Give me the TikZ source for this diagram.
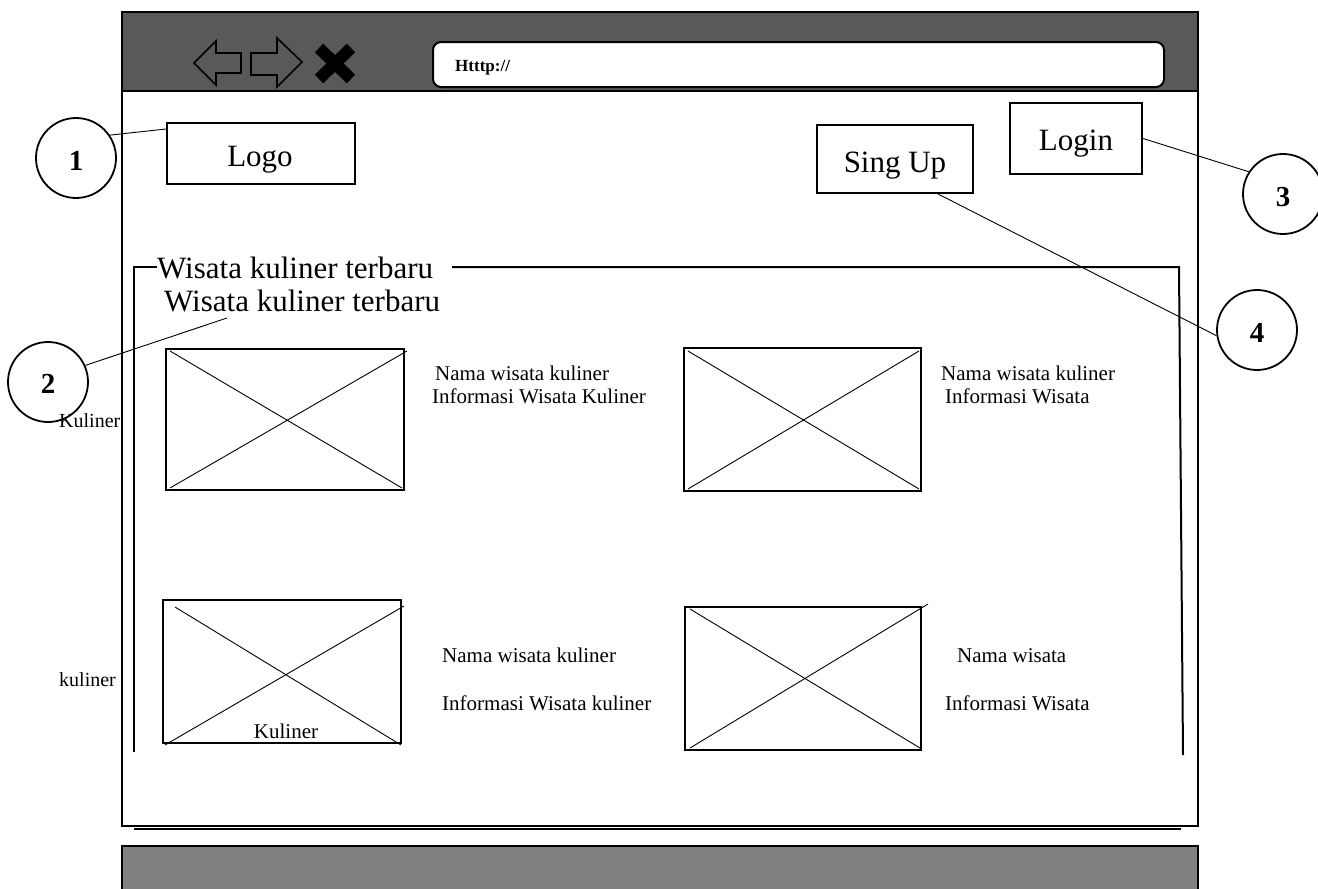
\documentclass[tikz,border=0pt]{standalone}
\usepackage{fontspec}
\setmainfont{Liberation Serif}
\usetikzlibrary{calc}
\definecolor{bardark}{HTML}{595959}
\definecolor{bargray}{HTML}{808080}
\tikzset{
  frame/.style={draw=black, line width=2pt},
  thin/.style={draw=black, line width=0.9pt},
  box/.style={draw=black, line width=2pt, rectangle, inner sep=0pt, fill=white},
  marker/.style={draw=black, line width=1.8pt, circle, minimum size=80pt, inner sep=0pt},
  num/.style={inner sep=0pt, font=\fontsize{29}{33}\selectfont\bfseries},
  big/.style={inner sep=0pt, font=\fontsize{31}{36}\selectfont},
  small/.style={inner sep=0pt, font=\fontsize{21}{25}\selectfont},
}
\begin{document}
\begin{tikzpicture}[x=1pt,y=-1pt]
\useasboundingbox (0,0) rectangle (1318,889);
% window
\draw[frame, fill=white, line width=2.5pt] (122,12) rectangle (1198,826);
\draw[frame, fill=bardark, line width=2.5pt] (122,12) rectangle (1198,91);
\draw[frame] (134,829) -- (1181,829);
% bottom bar
\draw[frame, fill=bargray] (122,846) rectangle (1198,895);
% toolbar icons
\draw[thin, line width=1.6pt, line join=miter] (194,63) -- (216,41) -- (216,53) -- (241,53) -- (241,73) -- (216,73) -- (216,85) -- cycle;
\draw[thin, line width=1.6pt, line join=miter] (251,53) -- (277,53) -- (277,38) -- (302,62) -- (277,87) -- (277,75) -- (251,75) -- cycle;
\draw[line width=12pt] (319,48) -- (351,79);
\draw[line width=12pt] (351,48) -- (319,79);
% address bar
\draw[frame, fill=white, rounded corners=8pt] (433,42) rectangle (1164,87);
\node[anchor=base west, inner sep=0pt, font=\fontsize{17}{20}\selectfont\bfseries] (url) at (455,71) {Htttp://};
% header boxes
\node[box, minimum width=188pt, minimum height=61pt] (logo) at (261,153.5) {};
\node[big, anchor=base] (logot) at (260,166) {Logo};
\node[box, minimum width=156pt, minimum height=68pt] (signup) at (895,159) {};
\node[big, anchor=base] (signupt) at (895,172) {Sing Up};
\node[box, minimum width=132pt, minimum height=71pt] (login) at (1076,138.5) {};
\node[big, anchor=base] (logint) at (1076,150) {Login};
% markers
\node[marker] (c1) at (76,158) {};
\node[marker] (c2) at (48,382) {};
\node[marker] (c3) at (1283,194) {};
\node[marker] (c4) at (1257,330) {};
\node[num] (n1) at ([yshift=-3pt]c1.center) {1};
\node[num] (n2) at ([yshift=-2pt]c2.center) {2};
\node[num] (n3) at ([yshift=-3pt]c3.center) {3};
\node[num] (n4) at ([yshift=-3pt]c4.center) {4};
% group frame
\draw[frame] (157,267) -- (134,267) -- (134,752);
\draw[frame] (452,267) -- (1179,267) -- (1183,755);
\node[big, anchor=base west] (legend) at (157,278) {Wisata kuliner terbaru};
\node[big, anchor=base west] (title) at (164,311) {Wisata kuliner terbaru};
\coordinate (p2) at (227,318);
% leader lines
\draw[thin] (c1.34) -- ([yshift=-7pt]logo.north west);
\draw[thin] (c2.24) -- (p2);
\draw[thin] (login.east) -- (c3.147);
\draw[thin] ([xshift=43pt]signup.south) -- (c4.188);
% side labels
\node[small, anchor=base west, font=\fontsize{20}{24}\selectfont] (k1) at (59,427) {Kuliner};
\node[small, anchor=base west, font=\fontsize{20}{24}\selectfont] (k2) at (59,686) {kuliner};
% image A
\node[box, minimum width=238pt, minimum height=141pt] (imgA) at (285,419.5) {};
\draw[thin] (170,351) -- (402,488);
\draw[thin] (170,488) -- (407,351);
\node[small, anchor=base west] (a1) at (435,380) {Nama wisata kuliner};
\node[small, anchor=base west] (a2) at (432,403) {Informasi Wisata Kuliner};
% image B
\node[box, minimum width=237pt, minimum height=143pt] (imgB) at (802.5,419.5) {};
\draw[thin] (688,351) -- (919,489);
\draw[thin] (688,489) -- (919,351);
\node[small, anchor=base west] (b1) at (941,380) {Nama wisata kuliner};
\node[small, anchor=base west] (b2) at (945,403) {Informasi Wisata};
% image C
\node[box, minimum width=238pt, minimum height=143pt] (imgC) at (282,671.5) {};
\draw[thin] (175,607) -- (401,745);
\draw[thin] (165,745) -- (404,606);
\node[small, anchor=base] (ck) at (286,738) {Kuliner};
\node[small, anchor=base west] (c1t) at (442,662) {Nama wisata kuliner};
\node[small, anchor=base west] (c2t) at (442,710) {Informasi Wisata kuliner};
% image D
\node[box, minimum width=236pt, minimum height=143pt] (imgD) at (803,678.5) {};
\draw[thin] (690,609) -- (920,748);
\draw[thin] (690,748) -- (928,604);
\node[small, anchor=base west] (d1) at (957,662) {Nama wisata};
\node[small, anchor=base west] (d2) at (945,710) {Informasi Wisata};
\end{tikzpicture}
\end{document}
